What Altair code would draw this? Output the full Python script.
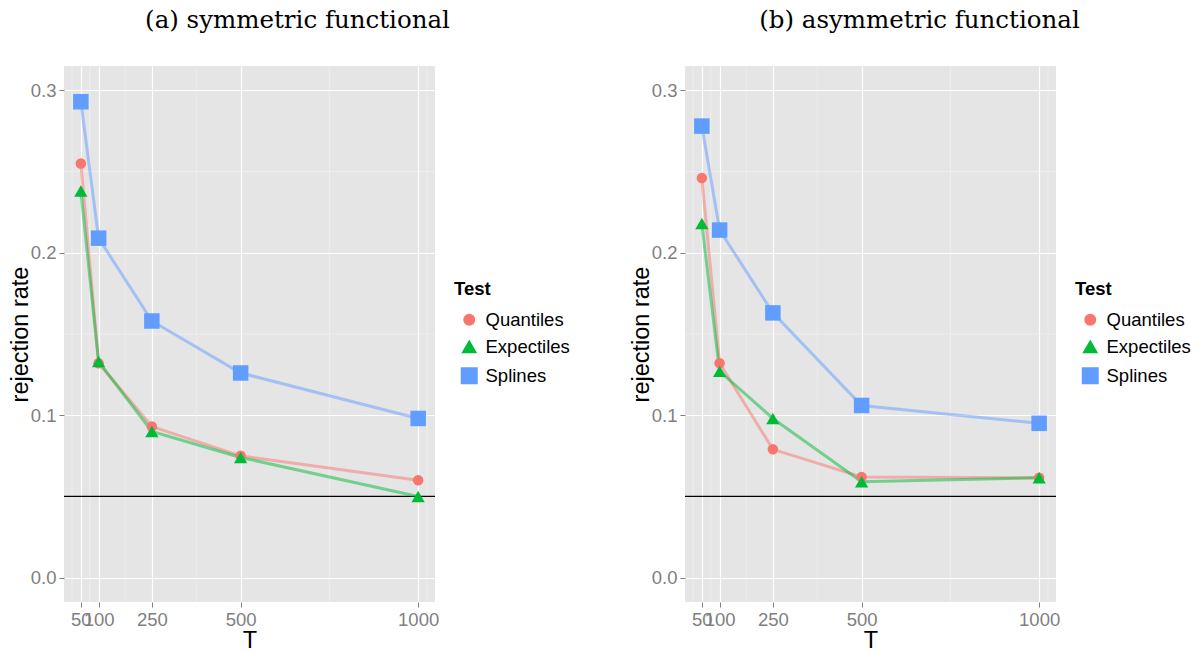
import altair as alt
import pandas as pd

T = [50, 100, 250, 500, 1000]
tests = ["Quantiles", "Expectiles", "Splines"]
colors = ["#F8766D", "#00BA38", "#619CFF"]
shapes = ["circle", "triangle-up", "square"]
sizes = [110, 240, 160]

a_quantiles = [0.255, 0.132, 0.093, 0.075, 0.060]
a_expectiles = [0.238, 0.133, 0.090, 0.074, 0.050]
a_splines = [0.293, 0.209, 0.158, 0.126, 0.098]

b_quantiles = [0.246, 0.132, 0.079, 0.062, 0.0615]
b_expectiles = [0.218, 0.127, 0.098, 0.059, 0.0615]
b_splines = [0.278, 0.214, 0.163, 0.106, 0.095]

x_minor = [25, 75, 175, 375, 750, 1025]
y_minor = [0.05, 0.15, 0.25]
y_ticks = [0.0, 0.1, 0.2, 0.3]
ref_level = [0.05]

LABEL_GRAY = "#7F7F7F"
SANS = "Liberation Sans"


def long_df(q, e, s):
    rows = []
    for name, vals in zip(tests, [q, e, s]):
        for t, v in zip(T, vals):
            rows.append({"T": t, "rate": v, "Test": name})
    return pd.DataFrame(rows)


def panel(q, e, s, title, dx):
    df = long_df(q, e, s)
    xscale = alt.Scale(domain=[2.5, 1047.5], nice=False, zero=False)
    yscale = alt.Scale(domain=[-0.015, 0.315], nice=False, zero=False)
    xaxis = alt.Axis(values=T, format="d", title="T", grid=True,
                     labelOverlap=False, labelFlush=False)
    yaxis = alt.Axis(values=y_ticks, format=".1f", title="rejection rate",
                     grid=True)
    leg = alt.Legend(title="Test", orient="none", legendX=390, legendY=214)
    color = alt.Color("Test:N", scale=alt.Scale(domain=tests, range=colors),
                      legend=leg)
    shape = alt.Shape("Test:N", scale=alt.Scale(domain=tests, range=shapes),
                      legend=leg)
    size = alt.Size("Test:N", scale=alt.Scale(domain=tests, range=sizes),
                    legend=None)

    minor_x = alt.Chart(pd.DataFrame({"T": x_minor})).mark_rule(
        color="#F2F2F2", strokeWidth=0.7).encode(
        x=alt.X("T:Q", scale=xscale, axis=xaxis))
    minor_y = alt.Chart(pd.DataFrame({"rate": y_minor})).mark_rule(
        color="#F2F2F2", strokeWidth=0.7).encode(
        y=alt.Y("rate:Q", scale=yscale, axis=yaxis))
    hline = alt.Chart(pd.DataFrame({"rate": ref_level})).mark_rule(
        color="black", strokeWidth=1.1).encode(y=alt.Y("rate:Q"))
    lines = alt.Chart(df).mark_line(strokeWidth=3, opacity=0.5).encode(
        x=alt.X("T:Q"), y=alt.Y("rate:Q"), color=color)
    points = alt.Chart(df).mark_point(filled=True, opacity=1).encode(
        x=alt.X("T:Q"), y=alt.Y("rate:Q"), color=color, shape=shape,
        size=size)

    return alt.layer(minor_x, minor_y, hline, lines, points).properties(
        width=371, height=536,
        title=alt.TitleParams(title, font="DejaVu Serif", fontSize=24.5,
                              fontWeight="normal", anchor="middle", dx=dx,
                              offset=32, color="black"),
    )


pa = panel(a_quantiles, a_expectiles, a_splines, "(a) symmetric functional", 48)
pb = panel(b_quantiles, b_expectiles, b_splines, "(b) asymmetric functional", 49)

chart = alt.hconcat(pa, pb, spacing=59).resolve_scale(
    color="independent", shape="independent", size="independent"
).resolve_legend(color="independent", shape="independent").configure(
    padding=0, background="white"
).configure_view(
    fill="#E5E5E5", stroke=None
).configure_axis(
    gridColor="white", gridWidth=1.2, domain=False,
    tickColor=LABEL_GRAY, tickSize=5, tickWidth=1,
    labelColor=LABEL_GRAY, labelFont=SANS, labelFontSize=18.5,
    labelPadding=3,
    titleFont=SANS, titleFontSize=23.5, titleFontWeight="normal",
    titleColor="black",
).configure_axisY(titlePadding=-2).configure_axisX(titlePadding=0) \
 .configure_legend(
    titleFont=SANS, titleFontSize=18.5, titleFontWeight="bold",
    titleColor="black", labelFont=SANS, labelFontSize=18.5,
    labelColor="black", symbolSize=120, rowPadding=8, titlePadding=12,
    symbolOffset=6, labelOffset=7, symbolOpacity=1,
)

chart.save("out.html", embed_options={"renderer": "svg", "actions": False})
